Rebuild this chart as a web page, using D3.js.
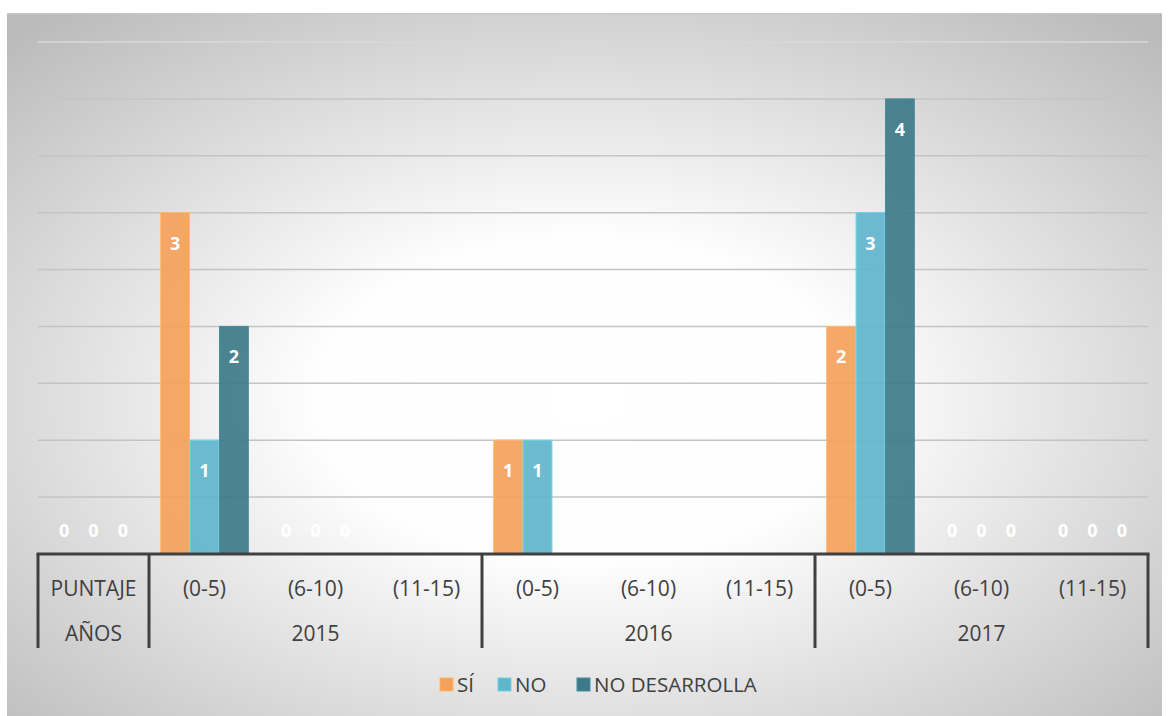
<!DOCTYPE html>
<html><head><meta charset="utf-8">
<script src="https://cdn.jsdelivr.net/npm/d3@7"></script>
<style>body{margin:0;background:#fff}svg{display:block}text{font-family:"Open Sans","Noto Sans",sans-serif}</style>
</head><body><svg id="c" width="1169" height="716"></svg>
<script>
const categories = ["PUNTAJE","(0-5)","(6-10)","(11-15)","(0-5)","(6-10)","(11-15)","(0-5)","(6-10)","(11-15)"];
const years = [{label:"AÑOS", from:0, to:0},{label:"2015", from:1, to:3},{label:"2016", from:4, to:6},{label:"2017", from:7, to:9}];
const seriesNames = ["SÍ","NO","NO DESARROLLA"];
const siValues = [0,3,0,null,1,null,null,2,0,0];
const noValues = [0,1,0,null,1,null,null,3,0,0];
const noDesValues = [0,2,0,null,0,null,null,4,0,0];
const yTicks = [0,0.5,1,1.5,2,2.5,3,3.5,4,4.5];
const colors = ["#F5A15B","#5FB5CC","#3D7A89"];

(function(){
const svg = d3.select("#c");
const defs = svg.append("defs");
const rg = defs.append("radialGradient").attr("id","bg").attr("cx","50%").attr("cy","55%").attr("r","72%");
rg.append("stop").attr("offset","0%").attr("stop-color","#ffffff");
rg.append("stop").attr("offset","32%").attr("stop-color","#fefefe");
rg.append("stop").attr("offset","100%").attr("stop-color","#bababa");
svg.append("rect").attr("x",7).attr("y",13).attr("width",1155).attr("height",703).attr("fill","url(#bg)");
svg.append("line").attr("x1",7).attr("x2",1162).attr("y1",13.5).attr("y2",13.5).attr("stroke","#c8c8c8").attr("stroke-width",1);

const pl=38, pr=1148, pt=42, base=554;
const x0 = d3.scaleBand().domain(d3.range(categories.length)).range([pl,pr]).paddingInner(0.2).paddingOuter(0.1);
const x1 = d3.scaleBand().domain(d3.range(3)).range([0,x0.bandwidth()]).padding(0.02);
const y = d3.scaleLinear().domain([0,4.5]).range([base,pt]);

svg.append("g").selectAll("line").data(yTicks.filter(t=>t>0)).join("line")
  .attr("x1",pl).attr("x2",pr).attr("y1",d=>y(d)).attr("y2",d=>y(d))
  .attr("stroke",d=>d>=4.5?"#d8d8d8":"#c4c4c4").attr("stroke-width",1.5);

const series = [siValues,noValues,noDesValues];
const flat = [];
series.forEach((vals,si)=>vals.forEach((v,ci)=>{ if(v!==null) flat.push({si,ci,v}); }));

svg.append("g").selectAll("rect").data(flat.filter(d=>d.v>0)).join("rect")
  .attr("x",d=>x0(d.ci)+x1(d.si)).attr("width",x1.bandwidth())
  .attr("y",d=>y(d.v)).attr("height",d=>y(0)-y(d.v))
  .attr("fill",d=>colors[d.si]).attr("fill-opacity",0.92)
  .attr("stroke",d=>d3.color(colors[d.si]).brighter(0.4)).attr("stroke-width",1);

svg.append("g").selectAll("text").data(flat).join("text")
  .attr("x",d=>x0(d.ci)+x1(d.si)+x1.bandwidth()/2)
  .attr("y",d=>d.v>0? y(d.v)+37 : y(0)-17)
  .attr("text-anchor","middle").attr("fill","#fff").attr("font-weight","bold").attr("font-size",18)
  .text(d=>d.v);

const axis = svg.append("g").attr("stroke","#404040").attr("stroke-width",3);
axis.append("line").attr("x1",pl-1.5).attr("x2",pr+1.5).attr("y1",base).attr("y2",base);
const sepX = [pl, x0(1)-x0.step()*0.1, x0(4)-x0.step()*0.1, x0(7)-x0.step()*0.1, pr];
axis.selectAll(".sep").data(sepX).join("line").attr("x1",d=>d).attr("x2",d=>d).attr("y1",base).attr("y2",648);

svg.append("g").selectAll("text").data(categories).join("text")
  .attr("x",(d,i)=>x0(i)+x0.bandwidth()/2).attr("y",596)
  .attr("text-anchor","middle").attr("font-size",21).attr("fill","#404040").text(d=>d);
svg.append("g").selectAll("text").data(years).join("text")
  .attr("x",d=>(x0(d.from)+x0(d.to)+x0.bandwidth())/2).attr("y",641)
  .attr("text-anchor","middle").attr("font-size",21).attr("fill","#404040").text(d=>d.label);

const legX = [440,498,577];
const lg = svg.append("g").selectAll("g").data(seriesNames).join("g").attr("transform",(d,i)=>`translate(${legX[i]},678)`);
lg.append("rect").attr("width",13).attr("height",13).attr("fill",(d,i)=>colors[i]).attr("stroke",(d,i)=>d3.color(colors[i]).brighter(0.4));
lg.append("text").attr("x",17).attr("y",14).attr("font-size",20.5).attr("fill","#404040").text(d=>d);
})();
</script></body></html>
